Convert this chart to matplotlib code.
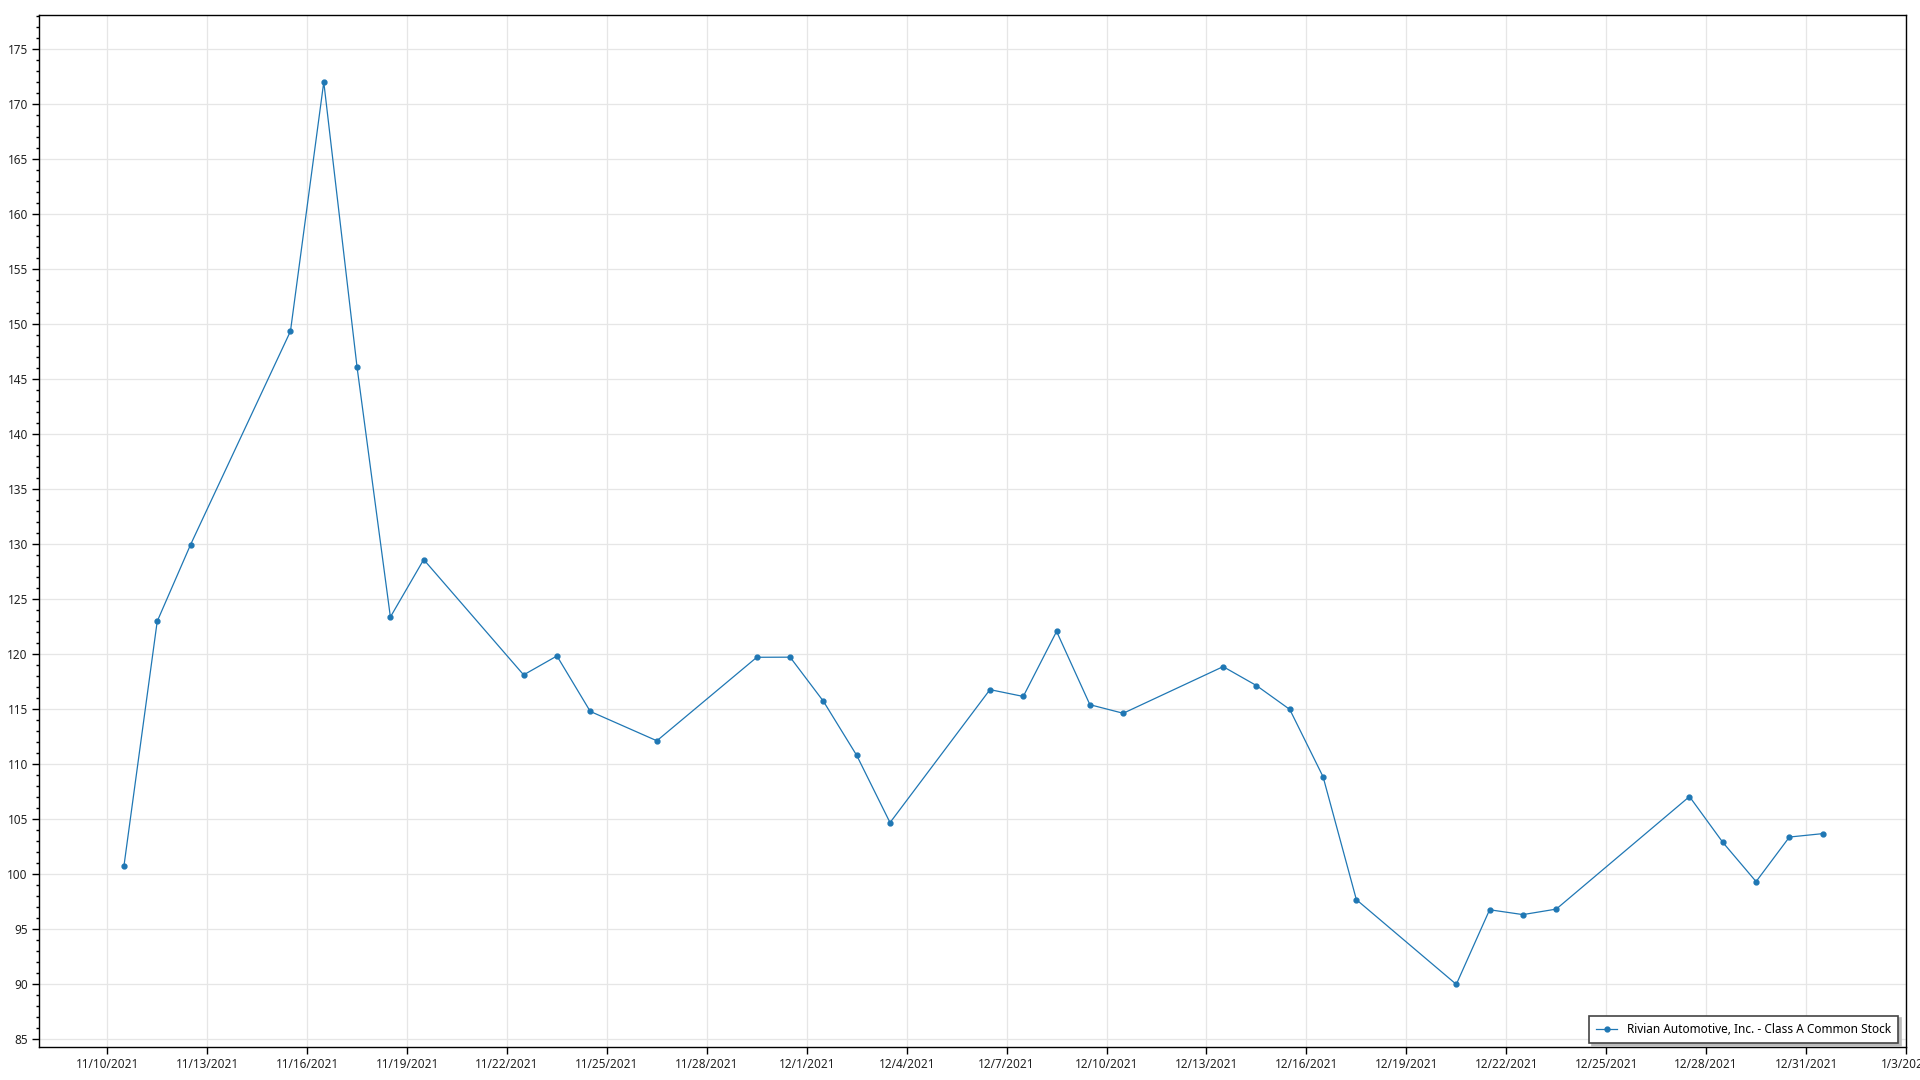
import numpy as np
import pandas as pd
import matplotlib
matplotlib.use("Agg")
import matplotlib.pyplot as plt
import matplotlib.dates as mdates
from matplotlib.ticker import MultipleLocator, FuncFormatter

plt.rcParams['font.family'] = ['Noto Sans', 'DejaVu Sans']

# closing prices
dates = ["2021-11-10", "2021-11-11", "2021-11-12", "2021-11-15", "2021-11-16",
         "2021-11-17", "2021-11-18", "2021-11-19", "2021-11-22", "2021-11-23",
         "2021-11-24", "2021-11-26", "2021-11-29", "2021-11-30", "2021-12-01",
         "2021-12-02", "2021-12-03", "2021-12-06", "2021-12-07", "2021-12-08",
         "2021-12-09", "2021-12-10", "2021-12-13", "2021-12-14", "2021-12-15",
         "2021-12-16", "2021-12-17", "2021-12-20", "2021-12-21", "2021-12-22",
         "2021-12-23", "2021-12-27", "2021-12-28", "2021-12-29", "2021-12-30",
         "2021-12-31"]
prices = [100.73, 122.99, 129.95, 149.36, 172.01,
          146.07, 123.38, 128.60, 118.12, 119.84,
          114.80, 112.13, 119.72, 119.73, 115.72,
          110.80, 104.69, 116.78, 116.16, 122.07,
          115.41, 114.63, 118.87, 117.15, 114.98,
          108.86, 97.69, 89.99, 96.77, 96.33,
          96.83, 107.06, 102.90, 99.33, 103.38,
          103.69]
series_name = "Rivian Automotive, Inc. - Class A Common Stock"

# points sit at midday of each date
x = pd.to_datetime(dates) + pd.Timedelta(hours=12)

fig = plt.figure(figsize=(19.2, 10.8), dpi=100)
ax = fig.add_axes([0.0203, 0.0306, 0.9724, 0.9555])

ax.plot(x, prices, color="#1f77b4", linewidth=0.9, marker="o", markersize=3.5,
        label=series_name)

ax.set_xlim(pd.Timestamp("2021-11-08") - pd.Timedelta(hours=1.2), pd.Timestamp("2022-01-03"))
ax.set_ylim(84.3, 178.1)

ticks = pd.date_range("2021-11-10", "2022-01-03", freq="3D")
ax.set_xticks(ticks)
ax.xaxis.set_major_formatter(FuncFormatter(
    lambda v, pos: "{d.month}/{d.day}/{d.year}".format(d=mdates.num2date(v))))

ax.yaxis.set_major_locator(MultipleLocator(5))
ax.yaxis.set_minor_locator(MultipleLocator(1))

ax.grid(True, which="major", color="#e6e6e6", linewidth=0.9)
ax.set_axisbelow(True)

for s in ax.spines.values():
    s.set_color("black")
    s.set_linewidth(1.0)

ax.tick_params(axis="both", which="major", direction="out", length=5, width=1,
               labelsize=8.5, colors="black", labelcolor="#222222")
ax.tick_params(axis="y", which="minor", direction="out", length=2.5, width=1)
ax.tick_params(axis="x", pad=3)
ax.tick_params(axis="y", pad=3)

leg = ax.legend(loc="lower right", fontsize=8.5, frameon=True, fancybox=False,
                shadow={"color": "#bbbbbb", "alpha": 1.0}, borderpad=0.6,
                handlelength=1.8, borderaxespad=0,
                bbox_to_anchor=(0.9957, 0.004))
leg.get_frame().set_edgecolor("#444444")
leg.get_frame().set_linewidth(1.2)

fig.savefig("out.png", dpi=100)
